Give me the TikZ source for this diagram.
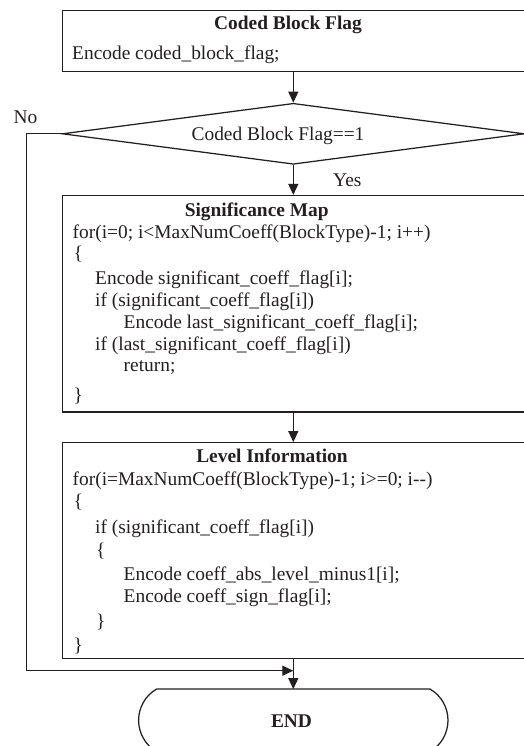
\documentclass[tikz,border=0pt]{standalone}
\usepackage{fontspec}
\setmainfont{Liberation Serif}[Ligatures=NoCommon]
\usetikzlibrary{arrows.meta,shapes.geometric,calc}
\definecolor{ink}{HTML}{231F20}
\tikzset{
  line/.style={draw=ink, line width=1.25pt},
  arr/.style={line, -{Triangle[length=11pt,width=10pt]}},
  boxnode/.style={draw=ink, line width=1.25pt, rectangle, inner sep=0pt, minimum width=462pt},
  txt/.style={inner sep=0pt, anchor=base west, text=ink, font=\fontsize{19.4}{23}\selectfont},
  ttl/.style={inner sep=0pt, anchor=base, text=ink, font=\fontsize{19.4}{23}\selectfont\bfseries},
}
\begin{document}
\begin{tikzpicture}[x=1pt,y=-1pt]
\useasboundingbox (0,0) rectangle (523,746);

% boxes
\node[boxnode, minimum height=61pt] (cbf) at (293.3,41.2) {};
\node[diamond, draw=ink, line width=1.25pt, inner sep=0pt, minimum width=462pt, minimum height=61pt] (dec) at (293.3,133.8) {};
\node[boxnode, minimum height=216.5pt] (sig) at (293.3,303.75) {};
\node[boxnode, minimum height=215.6pt] (lev) at (293.3,550.5) {};
\node[inner sep=0pt, minimum width=309pt, minimum height=62pt] (end) at (293.3,720.3) {};
\draw[line] ($(end.north west)+(17.85,0)$) -- ($(end.north east)+(-17.85,0)$)
  .. controls ($(end.north east)+(-6.8,6.38)$) and ($(end.east)+(0,-12.76)$) .. (end.east)
  .. controls ($(end.east)+(0,12.76)$) and ($(end.south east)+(-6.8,-6.38)$) .. ($(end.south east)+(-17.85,0)$)
  -- ($(end.south west)+(17.85,0)$)
  .. controls ($(end.south west)+(6.8,-6.38)$) and ($(end.west)+(0,12.76)$) .. (end.west)
  .. controls ($(end.west)+(0,-12.76)$) and ($(end.north west)+(6.8,6.38)$) .. ($(end.north west)+(17.85,0)$);
\node[ttl] (endtxt) at (291.5,727) {END};

% top box text
\node[ttl] (t1) at (288,29.5) {Coded Block Flag};
\node[txt] (t1a) at (72,59.3) {Encode coded\_block\_flag;};

% decision text
\node[txt, anchor=base] (dectxt) at (278,140.5) {Coded Block Flag==1};
\node[txt] (no) at (13.5,124) {No};
\node[txt] (yes) at (333,186) {Yes};

% significance map
\node[ttl] (t2) at (256.7,216) {Significance Map};
\node[txt] (s1) at (72.5,238.3) {for(i=0; i<MaxNumCoeff(BlockType)-1; i++)};
\node[txt] (s2) at (73.5,259.5) {\{};
\node[txt] (s3) at (95,284.5) {Encode significant\_coeff\_flag[i];};
\node[txt] (s4) at (95,306.5) {if (significant\_coeff\_flag[i])};
\node[txt] (s5) at (123.5,328.3) {Encode last\_significant\_coeff\_flag[i];};
\node[txt] (s6) at (95,350) {if (last\_significant\_coeff\_flag[i])};
\node[txt] (s7) at (123.5,371.7) {return;};
\node[txt] (s8) at (73.5,401.5) {\}};

% level information
\node[ttl] (t3) at (272,462) {Level Information};
\node[txt] (v1) at (72.5,485.7) {for(i=MaxNumCoeff(BlockType)-1; i>=0; i-{}-)};
\node[txt] (v2) at (73.5,507) {\{};
\node[txt] (v3) at (95,533.3) {if (significant\_coeff\_flag[i])};
\node[txt] (v4) at (96,556.6) {\{};
\node[txt] (v5) at (123.5,580) {Encode coeff\_abs\_level\_minus1[i];};
\node[txt] (v6) at (123.5,602.5) {Encode coeff\_sign\_flag[i];};
\node[txt] (v7) at (96,627) {\}};
\node[txt] (v8) at (73.5,651.5) {\}};

% connectors
\coordinate (join) at (293.3,670.7);
\draw[arr] (cbf.south) -- (dec.north);
\draw[arr] (dec.south) -- (sig.north);
\draw[arr] (sig.south) -- (lev.north);
\draw[arr] (lev.south) -- (end.north);
\draw[arr] (dec.west) -- ++(-35.3,0) |- (join);
\end{tikzpicture}
\end{document}
